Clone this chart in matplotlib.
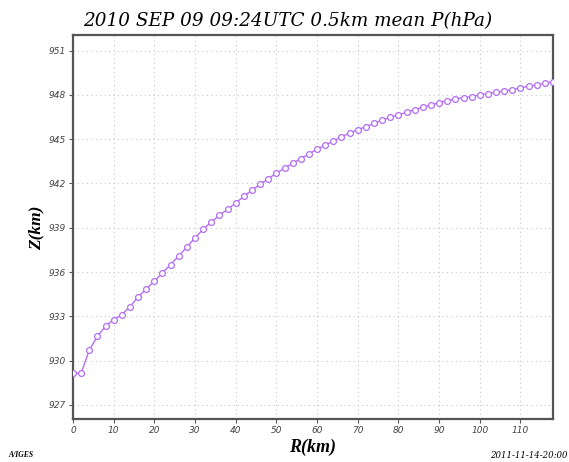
import matplotlib
matplotlib.use("Agg")
import matplotlib.pyplot as plt

r_km = list(range(0, 120, 2))
p_hpa = [929.15, 929.15, 930.72, 931.65, 932.33, 932.78, 933.11, 933.66, 934.31, 934.85,
         935.38, 935.94, 936.51, 937.09, 937.70, 938.31, 938.90, 939.39, 939.84, 940.25,
         940.68, 941.13, 941.55, 941.94, 942.32, 942.69, 943.03, 943.36, 943.68, 944.00,
         944.31, 944.60, 944.87, 945.14, 945.42, 945.64, 945.84, 946.07, 946.27, 946.48,
         946.63, 946.82, 947.00, 947.15, 947.31, 947.47, 947.60, 947.73, 947.81, 947.88,
         947.99, 948.08, 948.17, 948.26, 948.35, 948.46, 948.58, 948.66, 948.78, 948.89]

x_ticks = [0, 10, 20, 30, 40, 50, 60, 70, 80, 90, 100, 110]
y_ticks = [927, 930, 933, 936, 939, 942, 945, 948, 951]

title = "2010 SEP 09 09:24UTC 0.5km mean P(hPa)"

fig = plt.figure(figsize=(5.69, 4.62), dpi=100)
ax = fig.add_axes([73/569, 1-419/462, (553-73)/569, (419-35)/462])

ax.plot(r_km, p_hpa, color="#b36ef5", lw=1.0, marker="o", ms=4.2,
        mfc="white", mec="#b36ef5", mew=0.9, zorder=3)

ax.set_xlim(0, 118)
ax.set_ylim(926.05, 952.05)
ax.set_xticks(x_ticks)
ax.set_yticks(y_ticks)
ax.set_xticklabels([str(t) for t in x_ticks])
ax.set_yticklabels([str(t) for t in y_ticks])
ax.grid(True, color="#c8c8c8", linestyle=(0, (1, 3)), linewidth=0.8)
for s in ax.spines.values():
    s.set_color("#555555")
    s.set_linewidth(1.6)
ax.tick_params(axis="both", length=3, width=0.8, color="#555555",
               labelsize=6.5, labelcolor="#444444", pad=2)
for lab in ax.get_xticklabels() + ax.get_yticklabels():
    lab.set_fontstyle("italic")
    lab.set_family("DejaVu Sans")

fig.text(288/569, 1-26/462, title, ha="center", va="baseline", fontsize=13.2,
         family="DejaVu Serif", style="italic")
fig.text(313/569, 1-447/462, "R(km)", ha="center", va="center", fontsize=13,
         family="Liberation Serif", style="italic", weight="bold")
fig.text(36/569, 1-228/462, "Z(km)", ha="center", va="center", fontsize=12.5,
         family="Liberation Serif", style="italic", weight="bold", rotation=90)
fig.text(8/569, 1-455/462, "A/IGES", ha="left", va="center", fontsize=5.5,
         family="Liberation Serif", style="italic", weight="bold")
fig.text(568/569, 1-455/462, "2011-11-14-20:00", ha="right", va="center", fontsize=6.2,
         family="DejaVu Serif", style="italic")

fig.savefig("out.png", dpi=100)
